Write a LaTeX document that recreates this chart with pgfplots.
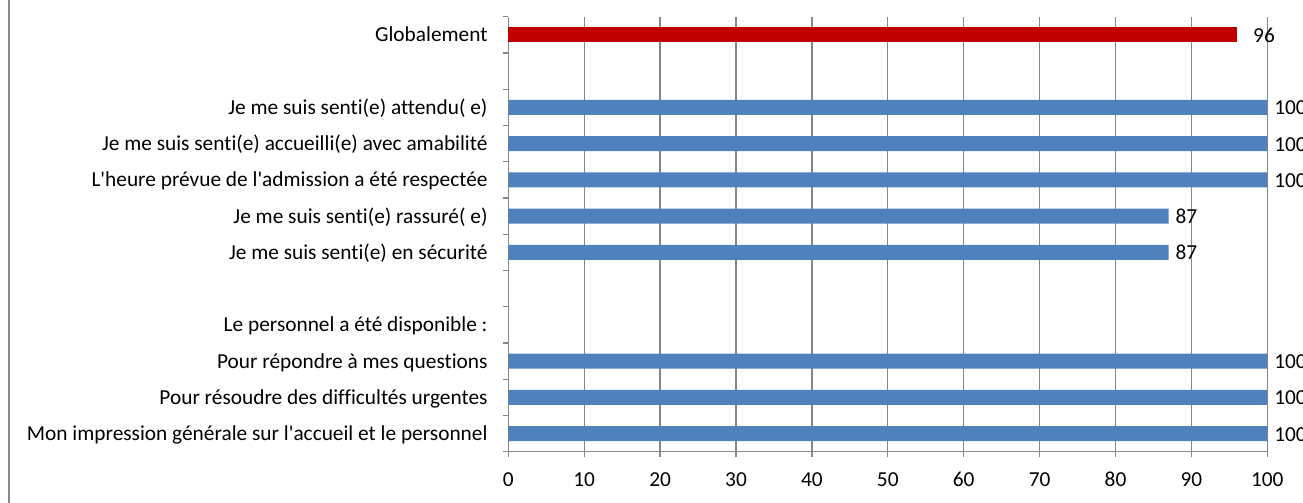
\documentclass[border=0pt]{standalone}
\usepackage{pgfplots}
\pgfplotsset{compat=1.18}
\usepackage{fontspec}
\setmainfont{Carlito}[Ligatures={NoCommon}]
\definecolor{barblue}{HTML}{4F81BD}
\definecolor{barred}{HTML}{C00000}
\definecolor{gridgray}{HTML}{868686}
\newcommand{\lblfont}{\fontsize{16pt}{19pt}\selectfont}
\newcommand{\q}{\textquotesingle}
\begin{document}
\begin{tikzpicture}
\useasboundingbox (-381.2pt,-37.7pt) rectangle (596.0pt,338.8pt);
\clip (-381.2pt,-37.7pt) rectangle (596.0pt,338.8pt);
\begin{axis}[
  at={(0pt,0pt)}, anchor=south west,
  scale only axis, width=569.25pt, height=326.25pt,
  xmin=0, xmax=100, ymin=-0.5, ymax=11.5,
  /pgf/number format/assume math mode=true,
  axis x line*=bottom, axis y line*=left,
  axis line style={gridgray, line width=1pt, -},
  xtick={0,10,...,100},
  minor xtick={0,10,...,100},
  xmajorgrids,
  major grid style={gridgray, line width=1pt},
  ytick={0,...,11},
  minor ytick={-0.5,0.5,...,11.5},
  yticklabels={Mon impression générale sur l\q accueil et le personnel,
    Pour résoudre des difficultés urgentes,
    Pour répondre à mes questions,
    Le personnel a été disponible :,
    {},
    Je me suis senti(e) en sécurité,
    Je me suis senti(e) rassuré( e),
    L\q heure prévue de l\q admission a été respectée,
    Je me suis senti(e) accueilli(e) avec amabilité,
    Je me suis senti(e) attendu( e),
    {},
    Globalement},
  tick align=outside,
  major tick length=0pt,
  minor tick length=4.2pt,
  tick style={gridgray, line width=1pt},
  yticklabel style={font=\lblfont, anchor=base east, inner sep=0pt, xshift=-15.4pt, yshift=-5.3pt},
  xticklabel style={font=\lblfont, anchor=base, inner sep=0pt, yshift=-26.4pt},
  clip=false,
]
\addplot[xbar, bar shift=0pt, bar width=11.25pt, fill=barred, draw=none,
  nodes near coords,
  every node near coord/.append style={font=\lblfont, anchor=base west, inner sep=0pt, xshift=12pt, yshift=-5.4pt, text=black}]
  coordinates {(96,11)};
\addplot[xbar, bar shift=0pt, bar width=11.25pt, fill=barblue, draw=none,
  nodes near coords,
  every node near coord/.append style={font=\lblfont, anchor=base west, inner sep=0pt, xshift=5pt, yshift=-5.6pt, text=black}]
  coordinates {(100,0) (100,1) (100,2) (87,5) (87,6) (100,7) (100,8) (100,9)};
\end{axis}
\draw[gridgray, line width=1.3pt] (-374.6pt,-40pt) -- (-374.6pt,345pt);
\end{tikzpicture}
\end{document}
